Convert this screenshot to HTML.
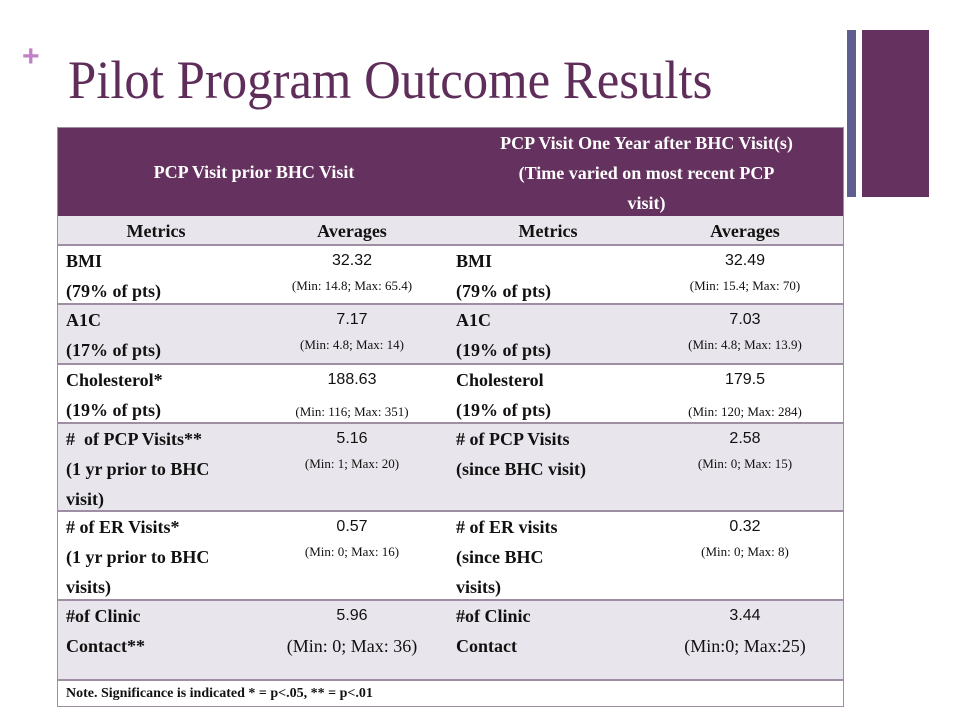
<!DOCTYPE html>
<html><head><meta charset="utf-8"><style>
body{margin:0;width:960px;height:720px;background:#fff;position:relative;overflow:hidden;font-family:"Liberation Serif",serif}
.a{position:absolute}
.row{position:absolute;left:58px;width:785px;border-bottom:2px solid #9d8ea3;box-sizing:border-box}
.m{position:absolute;left:8px;font-weight:bold;font-size:18px;line-height:30px;color:#111}
.m2{left:398px}
.v{position:absolute;width:196px;text-align:center;color:#111}
.v1{left:196px}.v2{left:589px}
.n{font-family:"Liberation Sans",sans-serif;font-size:16px;line-height:30px;display:block}
.s{font-size:13px;line-height:20px;display:block}
.b{font-family:"Liberation Sans",sans-serif;font-size:16px;line-height:30px;display:block}
.g{background:#e8e6ec}
</style></head><body>
<div class="a" style="left:22px;top:40px;font:bold 30px 'Liberation Sans',sans-serif;color:#c37fc8">+</div>
<div class="a" style="left:68px;top:49px;font-size:54px;line-height:62px;color:#5f2d5a;white-space:nowrap;transform:scaleX(0.94);transform-origin:left">Pilot Program Outcome Results</div>
<div class="a" style="left:847px;top:30px;width:9px;height:167px;background:#5f5f8f"></div>
<div class="a" style="left:862px;top:30px;width:67px;height:167px;background:#65325f"></div>

<div class="a" style="left:57px;top:127px;width:787px;height:580px;border:1px solid #9d8ea3;box-sizing:border-box"></div>
<div class="row" style="top:128px;height:88px;background:#65325f;border-bottom:none">
 <div class="a" style="left:0;width:392px;top:29px;text-align:center;color:#fff;font-weight:bold;font-size:18px;line-height:30px">PCP Visit prior BHC Visit</div>
 <div class="a" style="left:392px;width:393px;top:0;text-align:center;color:#fff;font-weight:bold;font-size:18px;line-height:30px">PCP Visit One Year after BHC Visit(s)<br>(Time varied on most recent PCP<br>visit)</div>
</div>
<div class="row g" style="top:216px;height:30px">
 <div class="v" style="left:0;font-weight:bold;font-size:18px;line-height:30px">Metrics</div>
 <div class="v v1" style="font-weight:bold;font-size:18px;line-height:30px">Averages</div>
 <div class="v" style="left:392px;font-weight:bold;font-size:18px;line-height:30px">Metrics</div>
 <div class="v v2" style="font-weight:bold;font-size:18px;line-height:30px">Averages</div>
</div>
<div class="row" style="top:246px;height:59px">
 <div class="m">BMI<br>(79% of pts)</div><div class="v v1"><span class="n">32.32</span><span class="s">(Min: 14.8; Max: 65.4)</span></div>
 <div class="m m2">BMI<br>(79% of pts)</div><div class="v v2"><span class="n">32.49</span><span class="s">(Min: 15.4; Max: 70)</span></div>
</div>
<div class="row g" style="top:305px;height:60px">
 <div class="m">A1C<br>(17% of pts)</div><div class="v v1"><span class="n">7.17</span><span class="s">(Min: 4.8; Max: 14)</span></div>
 <div class="m m2">A1C<br>(19% of pts)</div><div class="v v2"><span class="n">7.03</span><span class="s">(Min: 4.8; Max: 13.9)</span></div>
</div>
<div class="row" style="top:365px;height:59px">
 <div class="m">Cholesterol*<br>(19% of pts)</div><div class="v v1"><span class="n">188.63</span><span class="s" style="line-height:34px">(Min: 116; Max: 351)</span></div>
 <div class="m m2">Cholesterol<br>(19% of pts)</div><div class="v v2"><span class="n">179.5</span><span class="s" style="line-height:34px">(Min: 120; Max: 284)</span></div>
</div>
<div class="row g" style="top:424px;height:88px">
 <div class="m"># &nbsp;of PCP Visits**<br>(1 yr prior to BHC<br>visit)</div><div class="v v1"><span class="n">5.16</span><span class="s">(Min: 1; Max: 20)</span></div>
 <div class="m m2"># of PCP Visits<br>(since BHC visit)</div><div class="v v2"><span class="n">2.58</span><span class="s">(Min: 0; Max: 15)</span></div>
</div>
<div class="row" style="top:512px;height:89px">
 <div class="m"># of ER Visits*<br>(1 yr prior to BHC<br>visits)</div><div class="v v1"><span class="n">0.57</span><span class="s">(Min: 0; Max: 16)</span></div>
 <div class="m m2"># of ER visits<br>(since BHC<br>visits)</div><div class="v v2"><span class="n">0.32</span><span class="s">(Min: 0; Max: 8)</span></div>
</div>
<div class="row g" style="top:601px;height:80px">
 <div class="m">#of Clinic<br>Contact**</div><div class="v v1"><span class="n">5.96</span><span class="b" style="font-family:'Liberation Serif',serif;font-size:18px">(Min: 0; Max: 36)</span></div>
 <div class="m m2">#of Clinic<br>Contact</div><div class="v v2"><span class="n">3.44</span><span class="b" style="font-family:'Liberation Serif',serif;font-size:18px">(Min:0; Max:25)</span></div>
</div>
<div class="row" style="top:681px;height:26px;border-bottom:none">
 <div class="a" style="left:8px;top:3px;font-weight:bold;font-size:14px;line-height:20px;color:#111">Note. Significance is indicated * = p&lt;.05, ** = p&lt;.01</div>
</div>
</body></html>
